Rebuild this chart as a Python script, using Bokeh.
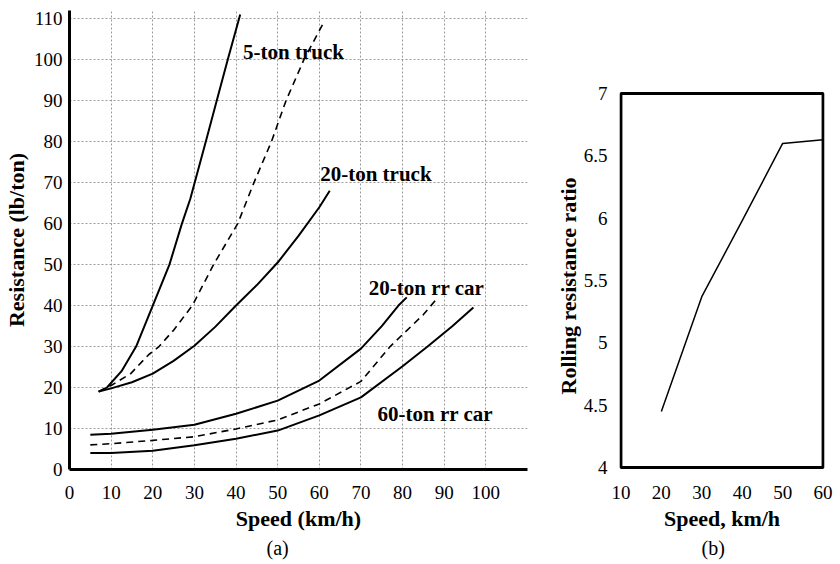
from bokeh.plotting import figure
from bokeh.layouts import row
from bokeh.models import Range1d, FixedTicker, BoxAnnotation, Title
from bokeh.core.properties import value
from bokeh.embed import file_html
from bokeh.resources import INLINE

FONT = "Liberation Serif"

# ---- panel (a): resistance vs speed ----
truck5_speed = [7, 9, 12.5, 16, 20, 24, 27, 29, 33, 35.5, 38, 41]
truck5_res = [19, 20, 24, 30, 40, 50, 60, 66, 81, 90.5, 100, 111]

truck5d_speed = [7, 10, 14.7, 19, 21.5, 25, 29.5, 34.6, 40.4, 44.3, 48.5, 52, 56.3, 61]
truck5d_res = [19, 20.5, 23.4, 28, 30, 34, 40, 50, 60, 70, 80, 90, 100, 109]

truck20_speed = [7, 10, 15, 20, 25, 30, 35, 40, 45, 50, 55, 60, 62.5]
truck20_res = [19, 19.8, 21.3, 23.4, 26.5, 30.2, 34.8, 40, 45, 50.5, 57, 64, 68]

rr20_speed = [5, 10, 20, 30, 40, 50, 60, 70, 75, 79, 81]
rr20_res = [8.5, 8.7, 9.7, 10.9, 13.6, 16.8, 21.7, 29.5, 35, 40, 42]

rrd_speed = [5, 10, 20, 30, 40, 50, 60, 70, 77, 85, 88.5]
rrd_res = [6, 6.3, 7.1, 8.0, 9.9, 12.1, 16.0, 21.5, 30, 37.8, 42]

rr60_speed = [5, 10, 20, 30, 40, 50, 60, 70, 80, 86, 92, 97]
rr60_res = [4, 4, 4.6, 5.9, 7.5, 9.5, 13.2, 17.6, 25.2, 30, 35, 39.5]

curve_labels = ["5-ton truck", "20-ton truck", "20-ton rr car", "60-ton rr car"]
label_speed = [41.7, 60.2, 71.9, 74.0]
label_res = [101.8, 72.1, 44.3, 13.6]

x_ticks_a = [0, 10, 20, 30, 40, 50, 60, 70, 80, 90, 100, 110]
y_ticks_a = [0, 10, 20, 30, 40, 50, 60, 70, 80, 90, 100, 110]

# ---- panel (b): rolling resistance ratio ----
ratio_speed = [20, 30, 40, 50, 60]
ratio_value = [4.45, 5.37, 5.98, 6.60, 6.63]
x_ticks_b = [10, 20, 30, 40, 50, 60]
y_ticks_b = [4, 4.5, 5, 5.5, 6, 6.5, 7]


def style_axis(ax, title_size="22px", title_style="bold"):
    ax.axis_line_width = 3
    ax.axis_line_color = "black"
    ax.major_tick_line_color = None
    ax.minor_tick_line_color = None
    ax.major_tick_out = 0
    ax.major_tick_in = 0
    ax.minor_tick_out = 0
    ax.minor_tick_in = 0
    ax.major_label_text_font = FONT
    ax.major_label_text_font_size = "19px"
    ax.major_label_text_color = "black"
    ax.axis_label_text_font = FONT
    ax.axis_label_text_font_style = title_style
    ax.axis_label_text_font_size = title_size
    ax.axis_label_text_color = "black"


def caption(text, offset, size="20px", style="normal", standoff=2):
    # align="left" so that offset (pixels from the frame edge) is honoured
    return Title(text=text, align="left", offset=offset, standoff=standoff,
                 text_font=FONT, text_font_size=size, text_font_style=style,
                 text_color="black")


# both panels share the same borders so the row keeps their frames aligned
BORDER_TOP = 10
BORDER_BOTTOM = 93
HEIGHT = 562

p1 = figure(width=533, height=HEIGHT, x_range=Range1d(0, 110), y_range=Range1d(0, 112),
            output_backend="svg", toolbar_location=None,
            min_border_left=69, min_border_right=6,
            min_border_top=BORDER_TOP, min_border_bottom=BORDER_BOTTOM)
p1.outline_line_color = None
style_axis(p1.xaxis[0])
style_axis(p1.yaxis[0])
p1.xaxis.ticker = FixedTicker(ticks=x_ticks_a)
p1.yaxis.ticker = FixedTicker(ticks=y_ticks_a)
p1.xaxis.major_label_overrides = {110: ""}
p1.xaxis.axis_label = "Speed (km/h)"
p1.yaxis.axis_label = "Resistance (lb/ton)"
p1.xaxis.major_label_standoff = 16
p1.yaxis.major_label_standoff = 7
p1.xaxis.axis_label_standoff = 4
p1.yaxis.axis_label_standoff = 2
p1.grid.grid_line_color = "#9a9a9a"
p1.grid.grid_line_dash = "2 2"
p1.grid.grid_line_width = 1

p1.line(truck5_speed, truck5_res, line_color="black", line_width=2)
p1.line(truck5d_speed, truck5d_res, line_color="black", line_width=1.6, line_dash="7 5")
p1.line(truck20_speed, truck20_res, line_color="black", line_width=2)
p1.line(rr20_speed, rr20_res, line_color="black", line_width=2)
p1.line(rrd_speed, rrd_res, line_color="black", line_width=1.6, line_dash="7 5")
p1.line(rr60_speed, rr60_res, line_color="black", line_width=2)
p1.text(x=label_speed, y=label_res, text=curve_labels, text_font=value(FONT),
        text_font_style="bold", text_font_size="21px", text_color="black",
        text_baseline="alphabetic", text_align="left")
p1.add_layout(caption("(a)", 197), "below")

# panel (b): frame spans same pixels as (a); visible box drawn at the data limits
p2 = figure(width=303, height=HEIGHT, x_range=Range1d(9.65, 60.35), y_range=Range1d(3.984, 7.666),
            output_backend="svg", toolbar_location=None,
            min_border_left=86, min_border_right=12,
            min_border_top=BORDER_TOP, min_border_bottom=BORDER_BOTTOM)
p2.outline_line_color = None
style_axis(p2.xaxis[0])
style_axis(p2.yaxis[0])
p2.xaxis.axis_line_color = None
p2.yaxis.axis_line_color = None
p2.grid.visible = False
p2.xaxis.ticker = FixedTicker(ticks=x_ticks_b)
p2.yaxis.ticker = FixedTicker(ticks=y_ticks_b)
p2.yaxis.major_label_overrides = {4: "4", 5: "5", 6: "6", 7: "7"}
p2.xaxis.axis_label = "Speed, km/h"
p2.xaxis.major_label_standoff = 16
p2.yaxis.major_label_standoff = 12
p2.xaxis.axis_label_standoff = 4
p2.add_layout(BoxAnnotation(left=x_ticks_b[0], right=x_ticks_b[-1],
                            bottom=y_ticks_b[0], top=y_ticks_b[-1],
                            fill_alpha=0, line_color="black", line_alpha=1, line_width=3))
p2.line(ratio_speed, ratio_value, line_color="black", line_width=1.5)
p2.add_layout(caption("Rolling resistance ratio", 75, size="22px", style="bold", standoff=0), "left")
p2.add_layout(caption("(b)", 82), "below")

layout = row(p1, p2)
open("out.html", "w").write(file_html(layout, INLINE))
